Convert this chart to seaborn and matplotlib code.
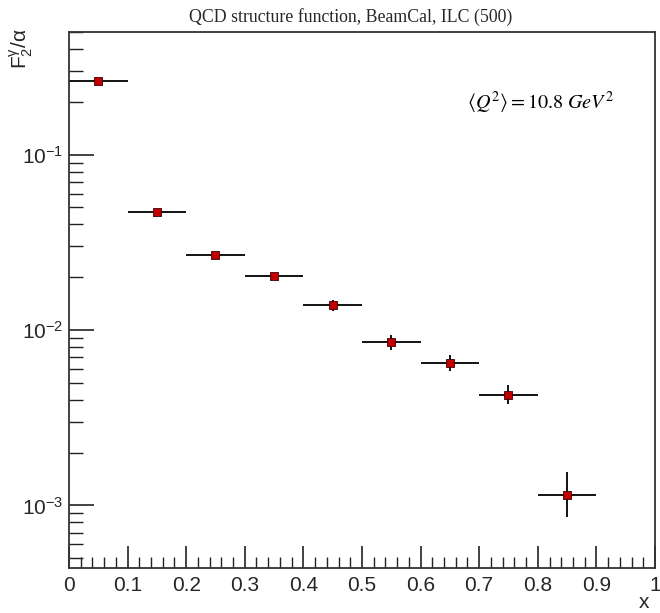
import numpy as np
import pandas as pd
import seaborn as sns
import matplotlib
matplotlib.use('Agg')
import matplotlib.pyplot as plt
from matplotlib.ticker import MultipleLocator, LogLocator, FuncFormatter, NullFormatter

# DATA
x_centers = [0.05, 0.15, 0.25, 0.35, 0.45, 0.55, 0.65, 0.75, 0.85]
x_halfwidth = [0.05, 0.05, 0.05, 0.05, 0.05, 0.05, 0.05, 0.05, 0.05]
f2_values = [0.264, 0.0469, 0.0268, 0.0202, 0.0138, 0.00853, 0.00653, 0.00428, 0.00114]
f2_err_lo = [0.004, 0.0012, 0.0010, 0.0010, 0.0010, 0.0008, 0.0007, 0.0005, 0.00028]
f2_err_hi = [0.004, 0.0012, 0.0010, 0.0010, 0.0010, 0.0008, 0.0007, 0.0006, 0.00042]

df = pd.DataFrame({'x': x_centers, 'F2': f2_values})

# STYLE
sns.set_theme(style='white')
plt.rcParams['font.family'] = ['Liberation Sans', 'DejaVu Sans']
plt.rcParams['axes.edgecolor'] = '#333333'

fig = plt.figure(figsize=(6.6, 6.13), dpi=100)
ax = fig.add_axes([0.1045, 0.0734, 0.8879, 0.8744])

# ERROR BARS + MARKERS
ax.errorbar(x_centers, f2_values, xerr=x_halfwidth, yerr=[f2_err_lo, f2_err_hi],
            fmt='none', ecolor='black', elinewidth=1.3, capsize=0, zorder=2)
sns.scatterplot(data=df, x='x', y='F2', marker='s', s=26, color='#c00000',
                edgecolor='#400000', linewidth=0.6, ax=ax, zorder=3)

ax.set_yscale('log')
ax.set_xlim(0, 1)
ax.set_ylim(4.4e-4, 0.5)

# TICKS (root-like, inside)
ax.xaxis.set_major_locator(MultipleLocator(0.1))
ax.xaxis.set_minor_locator(MultipleLocator(0.02))
ax.xaxis.set_major_formatter(FuncFormatter(lambda v, p: '0' if abs(v) < 1e-9 else ('1' if abs(v - 1) < 1e-9 else f'{v:.1f}')))
ax.yaxis.set_major_locator(LogLocator(base=10, numticks=10))
ax.yaxis.set_minor_locator(LogLocator(base=10, subs=np.arange(2, 10), numticks=20))
ax.yaxis.set_minor_formatter(NullFormatter())
ax.yaxis.set_major_formatter(FuncFormatter(lambda v, p: r'$\mathregular{10^{-%d}}$' % int(round(-np.log10(v)))))
ax.tick_params(axis='both', which='both', direction='in', color='#222222', labelsize=15,
               bottom=True, left=True, top=False, right=False)
ax.tick_params(axis='x', which='major', length=16, width=1.2, pad=6)
ax.tick_params(axis='x', which='minor', length=8, width=1.0)
ax.tick_params(axis='y', which='major', length=18, width=1.2, pad=4)
ax.tick_params(axis='y', which='minor', length=10, width=1.0)
for s in ax.spines.values():
    s.set_linewidth(1.3)

# LABELS
ax.set_xlabel('x', fontsize=15, loc='right')
ax.xaxis.set_label_coords(0.99, -0.046)
ax.set_ylabel(r'$\mathregular{F_2^{\gamma}/\alpha}$', fontsize=15, loc='top')
ax.yaxis.set_label_coords(-0.058, 1.008)
fig.text(0.532, 0.972, 'QCD structure function, BeamCal, ILC (500)', ha='center', va='center',
         fontsize=12.8, family='Liberation Serif')
ax.text(0.804, 0.868, r'$\langle Q^2\rangle = 10.8\ GeV^2$', transform=ax.transAxes,
        ha='center', va='center', fontsize=14.5, math_fontfamily='stix', color='black')

fig.savefig('out.png', dpi=100)
